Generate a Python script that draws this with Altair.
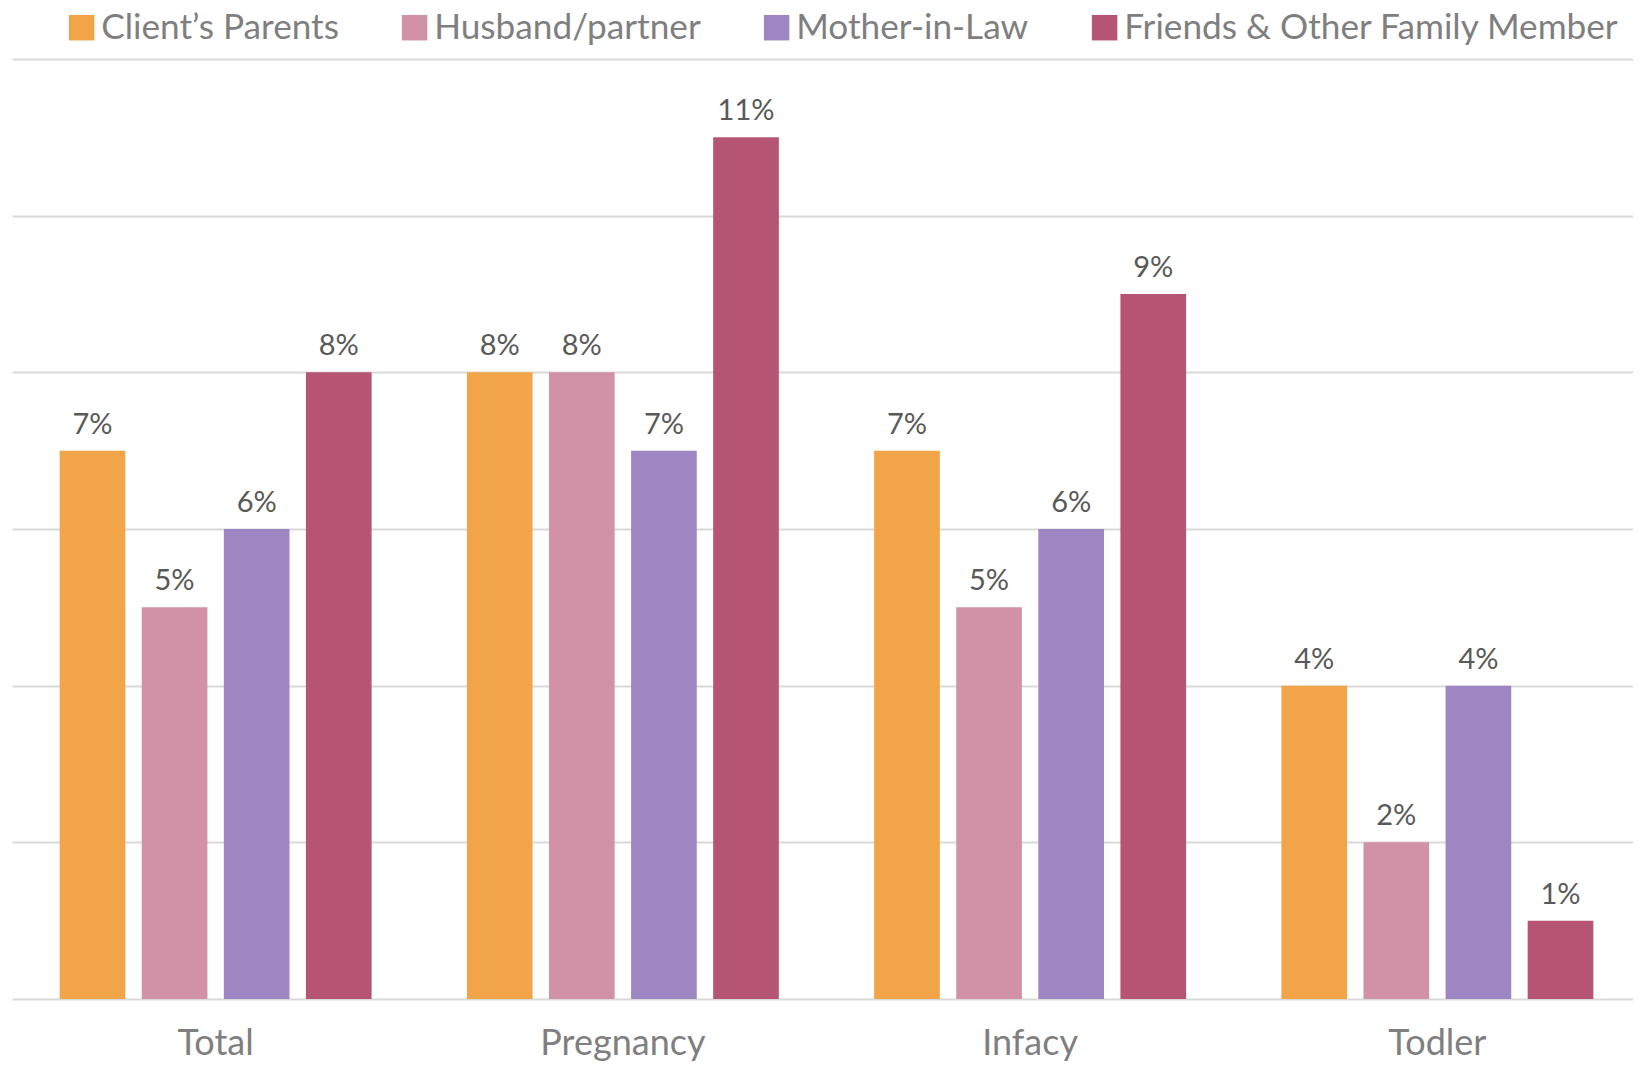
import altair as alt
import pandas as pd

stages = ["Total", "Pregnancy", "Infacy", "Todler"]
series = ["Client’s Parents", "Husband/partner", "Mother-in-Law", "Friends & Other Family Member"]
colors = ["#F2A448", "#D191A7", "#9E86C2", "#B55473"]
values = {
    "Client’s Parents": [7, 8, 7, 4],
    "Husband/partner": [5, 8, 5, 2],
    "Mother-in-Law": [6, 7, 6, 4],
    "Friends & Other Family Member": [8, 11, 9, 1],
}

rows = []
for s in series:
    for st, v in zip(stages, values[s]):
        rows.append({"stage": st, "series": s, "value": v, "label": f"{v}%"})
df = pd.DataFrame(rows)

FONT = "Lato"

x = alt.X("stage:N", sort=stages,
          scale=alt.Scale(paddingInner=0.234, paddingOuter=0.117, range=[0, 1629]),
          axis=alt.Axis(title=None, labelAngle=0, labelFontSize=36, labelColor="#7F7F7F",
                        labelFont=FONT, ticks=False, domain=False, labelPadding=27))
xo = alt.XOffset("series:N", sort=series, scale=alt.Scale(paddingInner=0.2, paddingOuter=0))
y = alt.Y("value:Q", scale=alt.Scale(domain=[0, 12], nice=False),
          axis=alt.Axis(title=None, labels=False, ticks=False, domain=False, grid=True,
                        values=[0, 2, 4, 6, 8, 10, 12], gridColor="#D9D9D9", gridWidth=2))

bars = alt.Chart(df).mark_bar().encode(
    x=x, xOffset=xo, y=y,
    color=alt.Color("series:N", sort=series,
                    scale=alt.Scale(domain=series, range=colors),
                    legend=alt.Legend(title=None, orient="none", direction="horizontal",
                                      legendX=52, legendY=-49, symbolType="square",
                                      symbolSize=650, symbolStrokeWidth=0,
                                      labelFontSize=35.2, labelColor="#7F7F7F", labelFont=FONT,
                                      columnPadding=58, labelOffset=2, labelLimit=1000,
                                      padding=0, offset=0)),
)

labels = alt.Chart(df).mark_text(fontSize=29, color="#595959", font=FONT, baseline="alphabetic", dy=-17).encode(
    x=alt.X("stage:N", sort=stages), xOffset=alt.XOffset("series:N", sort=series),
    y=alt.Y("value:Q"), text="label:N",
)

chart = (bars + labels).properties(
    width=1621, height=940,
    autosize=alt.AutoSizeParams(type="none"),
    padding={"left": 4, "top": 51, "right": 0, "bottom": 63},
).configure_view(stroke=None)

chart.save("out.html", embed_options={"renderer": "svg", "actions": False})
